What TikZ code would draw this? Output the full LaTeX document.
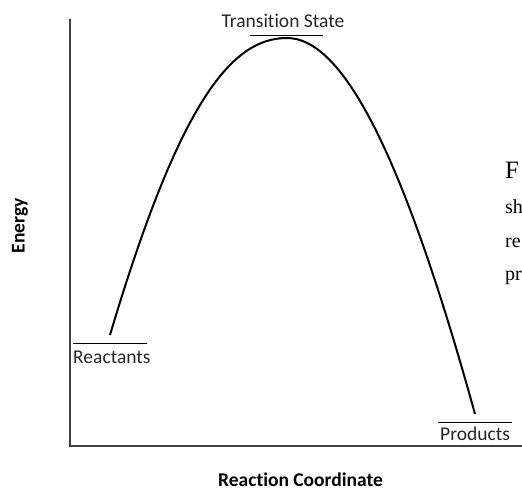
\documentclass[tikz,border=0pt]{standalone}
\usepackage{fontspec}
\setmainfont{Carlito}[Ligatures={NoCommon}]
\newfontfamily\sidefont{Liberation Serif}
\begin{document}
\begin{tikzpicture}[x=1pt,y=-1pt,
  axis/.style={draw=black!75, line width=1.5pt},
  levelline/.style={draw=black, line width=1pt},
  curveline/.style={draw=black, line width=2pt},
  lab/.style={font=\fontsize{19.5}{23}\selectfont, text=black!85, inner sep=0pt},
  axtitle/.style={font=\bfseries\fontsize{19.5}{23}\selectfont, inner sep=0pt},
  sidetext/.style={font=\sidefont\fontsize{20}{24}\selectfont, anchor=base west, inner sep=0pt}]
\useasboundingbox (0,0) rectangle (522,493);
% axes
\coordinate (top) at (70,19);
\coordinate (origin) at (70,446);
\coordinate (right) at (522,446);
\draw[axis] (top) -- (origin) -- (right);
% levels
\coordinate (rl1) at (73,343);
\coordinate (rl2) at (147,343);
\coordinate (tl1) at (250,35);
\coordinate (tl2) at (323,35);
\coordinate (pl1) at (438,422);
\coordinate (pl2) at (512,422);
\draw[levelline] (rl1) -- (rl2);
\draw[levelline] (tl1) -- (tl2);
\draw[levelline] (pl1) -- (pl2);
% curve
\coordinate (rs) at (110,335);
\coordinate (peak) at (287,38);
\coordinate (pe) at (475,414);
\draw[curveline] (rs) .. controls (180,100) and (232,38) .. (peak)
  .. controls (342,38) and (402,150) .. (pe);
% labels
\node[lab, anchor=base] (ts) at (283,27) {Transition State};
\node[lab, anchor=base west] (re) at (73,363) {Reactants};
\node[lab, anchor=base west] (pr) at (440,440) {Products};
\node[axtitle, rotate=90] (en) at (20,226) {Energy};
\node[axtitle, anchor=base west] (rc) at (218,486) {Reaction Coordinate};
% clipped side text
\node[sidetext, font=\sidefont\fontsize{25}{28}\selectfont] (f) at (505,178) {F};
\node[sidetext] (s1) at (505,213) {sh};
\node[sidetext] (s2) at (505,247) {re};
\node[sidetext] (s3) at (505,280) {pr};
\end{tikzpicture}
\end{document}
